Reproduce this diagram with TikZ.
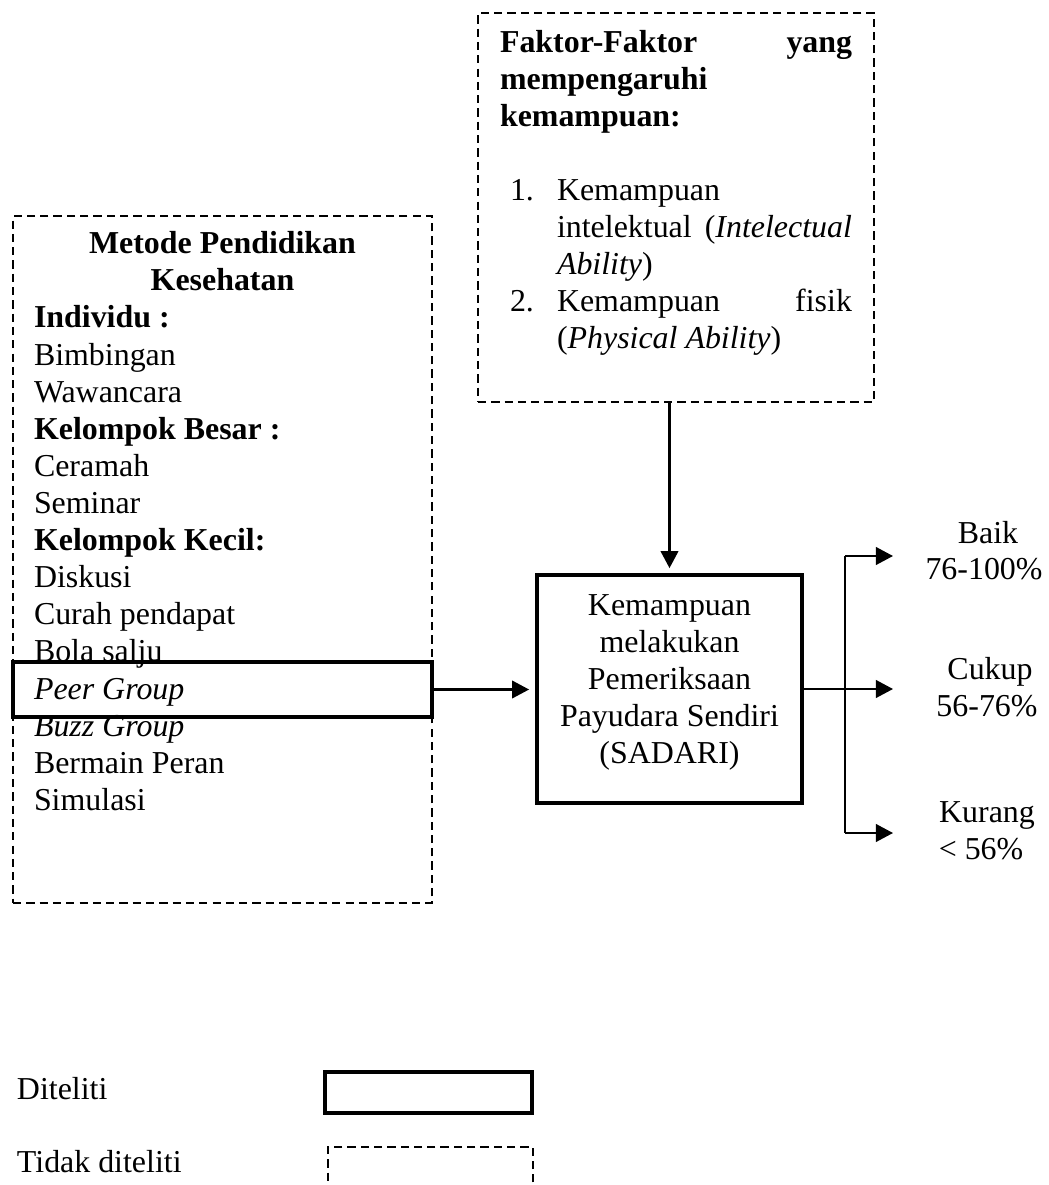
\documentclass[tikz,border=0pt]{standalone}
\usepackage{fontspec}
\setmainfont{Liberation Serif}
\usetikzlibrary{arrows.meta}
\begin{document}
\begin{tikzpicture}[x=0.376pt,y=-0.376pt,
  every node/.style={font=\fontsize{12}{13.95}\selectfont, inner sep=0pt, outer sep=0pt},
  txt/.style={anchor=base west},
  ctxt/.style={anchor=base},
  dashbox/.style={draw, line width=1.0pt, dash pattern=on 3.1pt off 1.9pt},
  solidbox/.style={draw, line width=1.35pt},
  arr/.style={-{Triangle[length=6.4pt,width=6.6pt]}, line width=0.8pt},
  branch/.style={line width=0.6pt}]
\useasboundingbox (0,0) rectangle (1048,1185);
\clip (0,0) rectangle (1048,1185);

% ---- left dashed box: Metode Pendidikan Kesehatan
\node[dashbox, minimum width=157.5pt, minimum height=258.3pt] (metode) at (222.5,559.5) {};
\node[ctxt] (mt1) at (222.5,254) {\textbf{Metode Pendidikan}};
\node[ctxt] (mt2) at (222.5,291) {\textbf{Kesehatan}};
\foreach \t [count=\i from 0] in {\textbf{Individu :}, Bimbingan, Wawancara,
  \textbf{Kelompok Besar :}, Ceramah, Seminar, \textbf{Kelompok Kecil:},
  Diskusi, Curah pendapat, Bola salju, \textit{Peer Group}, \textit{Buzz Group},
  Bermain Peran, Simulasi}
  \node[txt] (m\i) at (34,{328+37.1*\i}) {\t};
\node[solidbox, minimum width=157.5pt, minimum height=20.7pt] (peer) at (222.5,689.5) {};

% ---- top dashed box: Faktor-Faktor
\node[dashbox, minimum width=148.9pt, minimum height=146.3pt] (faktor) at (676,207.5) {};
\node[txt] (f1) at (500,53) {\makebox[132.4pt][l]{\textbf{Faktor-Faktor}\hfill\textbf{yang}}};
\node[txt] (f2) at (500,90) {\textbf{mempengaruhi}};
\node[txt] (f3) at (500,127) {\textbf{kemampuan:}};
\node[txt] (n1) at (510,201) {1.};
\node[txt] (f4) at (557,201) {Kemampuan};
\node[txt] (f5) at (557,238) {\makebox[110.9pt][l]{intelektual\hfill(\textit{Intelectual}}};
\node[txt] (f6) at (557,275) {\textit{Ability})};
\node[txt] (n2) at (510,312) {2.};
\node[txt] (f7) at (557,312) {\makebox[110.9pt][l]{Kemampuan\hfill fisik}};
\node[txt] (f8) at (557,349) {(\textit{Physical Ability})};

% ---- central solid box
\node[solidbox, minimum width=99.6pt, minimum height=85.7pt] (central) at (669.5,689) {};
\node[ctxt] (c1) at (669.5,615) {Kemampuan};
\node[ctxt] (c2) at (669.5,652) {melakukan};
\node[ctxt] (c3) at (669.5,689) {Pemeriksaan};
\node[ctxt] (c4) at (669.5,726) {Payudara Sendiri};
\node[ctxt] (c5) at (669.5,763) {(SADARI)};

% ---- outcome labels
\node[ctxt] (baik) at (988,543) {Baik};
\node[ctxt] (baikv) at (984,579) {76-100\%};
\node[ctxt] (cukup) at (990,679) {Cukup};
\node[ctxt] (cukupv) at (987,716) {56-76\%};
\node[ctxt] (kurang) at (987,822) {Kurang};
\node[ctxt] (kurangv) at (981,859) {\textless{} 56\%};

% ---- connectors
\draw[arr, shorten >=3pt] (peer.east) -- (peer.east -| central.west);
\draw[arr, shorten >=2.6pt] (central.north |- faktor.south) -- (central.north);
\coordinate (bt) at (845,556);
\coordinate (bb) at (845,833);
\coordinate (ta) at (893,556);
\coordinate (tc) at (893,690);
\coordinate (tk) at (893,833);
\draw[branch] (bt) -- (bb);
\draw[arr] (bt) -- (ta);
\draw[arr] (central.east) -- (central.east -| tc);
\draw[arr] (bb) -- (tk);

% ---- legend
\node[txt] (lg1) at (17,1099) {Diteliti};
\node[txt] (lg2) at (17,1172) {Tidak diteliti};
\node[solidbox, minimum width=77.8pt, minimum height=15.4pt] (lgs) at (428.5,1092.5) {};
\node[dashbox, minimum width=77.1pt, minimum height=31.2pt] (lgd) at (430.5,1188.5) {};
\end{tikzpicture}
\end{document}
